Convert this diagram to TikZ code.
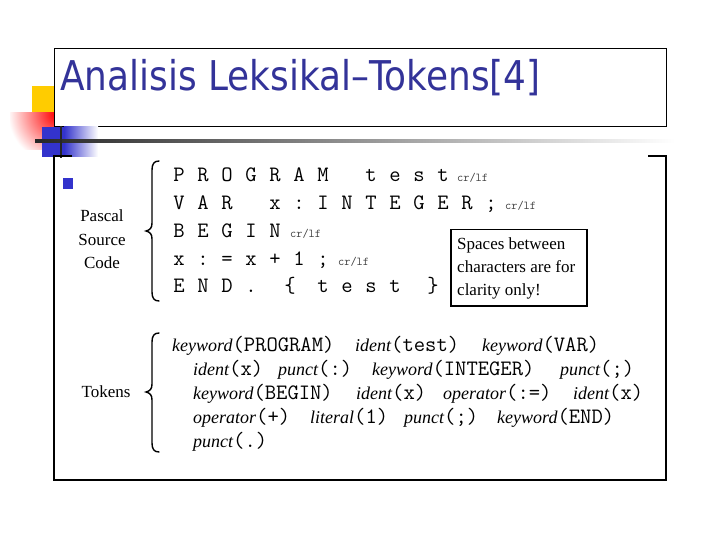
\documentclass[tikz,border=0pt]{standalone}
\usepackage{fontspec}
\setmainfont{Liberation Serif}
\newfontfamily\titlefont{DejaVu Sans}
\newcommand\srcfont{\ttfamily}
\definecolor{titleblue}{HTML}{333399}
\definecolor{sqblue}{HTML}{3333CC}
\definecolor{sqyellow}{HTML}{FFCC00}
\newcommand\tk[2]{{\itshape\fontsize{18}{18}\selectfont #1}{\ttfamily\fontsize{22}{22}\selectfont(#2)}}
\tikzset{
  src/.style={font=\srcfont\fontsize{22}{22}\selectfont, anchor=base, inner sep=0pt},
  crlf/.style={font=\srcfont\fontsize{12}{12}\selectfont, text=black!75, anchor=base west, inner sep=0pt},
  tok/.style={anchor=base west, inner sep=0pt},
  lbl/.style={font=\fontsize{17}{17}\selectfont, anchor=base, inner sep=0pt},
  note/.style={font=\fontsize{17}{17}\selectfont, anchor=base west, inner sep=0pt},
  brace/.style={line width=1.4pt, line cap=round},
  frame/.style={line width=1.3pt}
}
\begin{document}
\begin{tikzpicture}[x=1pt,y=-1pt]
\useasboundingbox (0,0) rectangle (720,540);
\fill[white] (0,0) rectangle (720,540);
% decoration
\fill[sqyellow] (32,86) rectangle (54,113);
\begin{scope}
  \clip (10,113) rectangle (54,150);
  \shade[inner color=red, middle color=red!80, outer color=white] (56,114) circle (48);
\end{scope}
\node[draw, frame, fill=white, minimum width=612, minimum height=78, anchor=north west, inner sep=0pt] (titlebox) at (54,48) {};
\node[anchor=base west, inner sep=0pt, text=titleblue, font=\titlefont\fontsize{41}{41}\selectfont] (title) at (60,91) {\scalebox{0.875}[1]{Analisis Leksikal–Tokens[4]}};
\fill[sqblue] (42,127) rectangle (64,157);
\shade[left color=sqblue, right color=white] (64,127) rectangle (98,157);
\shade[left color=black!85, middle color=black!55, right color=white] (35,139.8) rectangle (675,142.3);
\draw[line width=2pt, black!85] (61,126) -- (61,158);
% content frame
\coordinate (c1) at (54,156);
\coordinate (c2) at (54,480);
\coordinate (c3) at (666,480);
\coordinate (c4) at (666,156);
\draw[frame] (72,156) -- (c1) -- (c2) -- (c3) -- (c4) -- (648,156);
\fill[sqblue] (63,178) rectangle (73,189);
% Pascal source code
\node[lbl] (p1) at (102,222) {Pascal};
\node[lbl] (p2) at (102,245) {Source};
\node[lbl] (p3) at (102,268) {Code};
\draw[brace] (159,161) .. controls (154,161) and (152,164) .. (152,170) -- (152,223)
  .. controls (152,228) and (150,230) .. (146,231) .. controls (150,232) and (152,234) .. (152,239)
  -- (152,292) .. controls (152,298) and (154,301) .. (159,301);
\foreach \i/\c in {0/P,1/R,2/O,3/G,4/R,5/A,6/M,8/t,9/e,10/s,11/t}
  \node[src] at ({179+24*\i},182) {\c};
\node[crlf] at (457,182) {cr/lf};
\foreach \i/\c in {0/V,1/A,2/R,4/x,5/:,6/I,7/N,8/T,9/E,10/G,11/E,12/R,13/;}
  \node[src] at ({179+24*\i},210) {\c};
\node[crlf] at (505,210) {cr/lf};
\foreach \i/\c in {0/B,1/E,2/G,3/I,4/N}
  \node[src] at ({179+24*\i},237) {\c};
\node[crlf] at (290,237) {cr/lf};
\foreach \i/\c in {0/x,1/:,2/=,3/x,4/+,5/1,6/;}
  \node[src] at ({179+24*\i},265) {\c};
\node[crlf] at (338,265) {cr/lf};
\foreach \i/\c in {0/E,1/N,2/D,3/.,6/t,7/e,8/s,9/t}
  \node[src] at ({179+24*\i},292) {\c};
\node[src] at (290,292) {\{};
\node[src] at (433,292) {\}};
% note box
\node[draw, line width=1.5pt, minimum width=136, minimum height=76, anchor=north west, inner sep=0pt] (notebox) at (450,229) {};
\node[note] at (457,249) {Spaces between};
\node[note] at (457,272) {characters are for};
\node[note] at (457,295) {clarity only!};
% tokens
\node[lbl] (tokens) at (106,397) {Tokens};
\draw[brace] (159,333) .. controls (154,333) and (152,336) .. (152,342) -- (152,384)
  .. controls (152,389) and (150,391) .. (146,392) .. controls (150,393) and (152,395) .. (152,400)
  -- (152,443) .. controls (152,449) and (154,452) .. (159,452);
\node[tok] at (172,351) {\tk{keyword}{PROGRAM}};
\node[tok] at (355,351) {\tk{ident}{test}};
\node[tok] at (482,351) {\tk{keyword}{VAR}};
\node[tok] at (193,375) {\tk{ident}{x}};
\node[tok] at (278,375) {\tk{punct}{:}};
\node[tok] at (372,375) {\tk{keyword}{INTEGER}};
\node[tok] at (560,375) {\tk{punct}{;}};
\node[tok] at (193,399) {\tk{keyword}{BEGIN}};
\node[tok] at (356,399) {\tk{ident}{x}};
\node[tok] at (443,399) {\tk{operator}{:=}};
\node[tok] at (573,399) {\tk{ident}{x}};
\node[tok] at (193,423) {\tk{operator}{+}};
\node[tok] at (310,423) {\tk{literal}{1}};
\node[tok] at (404,423) {\tk{punct}{;}};
\node[tok] at (497,423) {\tk{keyword}{END}};
\node[tok] at (193,447) {\tk{punct}{.}};
\end{tikzpicture}
\end{document}
